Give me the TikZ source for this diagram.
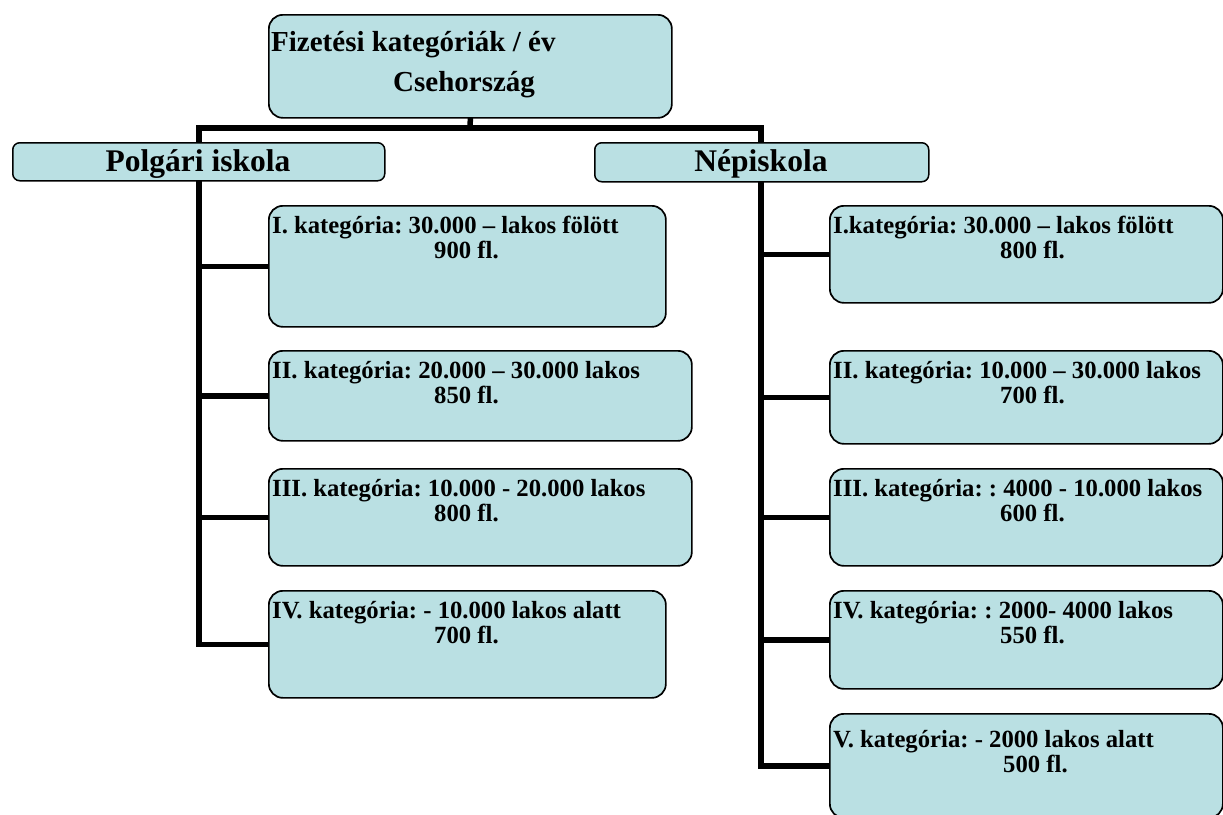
\documentclass[tikz,border=0pt]{standalone}
\usepackage{fontspec}
\setmainfont{Liberation Serif}
\definecolor{boxfill}{RGB}{186,224,227}
\pgfdeclarelayer{background}
\pgfsetlayers{background,main}
\tikzset{
  box/.style={draw=black, line width=1.7pt, fill=boxfill, rounded corners=14pt, anchor=north west, inner sep=0pt},
  hbox/.style={draw=black, line width=1.5pt, fill=boxfill, rounded corners=7pt, anchor=north west, inner sep=0pt},
  htxt/.style={anchor=base, inner sep=0pt, font=\fontsize{31.5}{36}\selectfont\bfseries},
  txt/.style={anchor=base west, inner sep=0pt, font=\fontsize{24.7}{28}\selectfont\bfseries},
  toptxt/.style={anchor=base west, inner sep=0pt, font=\fontsize{29}{33}\selectfont\bfseries},
  conn/.style={draw=black, line width=5.5pt, line cap=rect}
}
\begin{document}
\frenchspacing
\begin{tikzpicture}[x=1pt,y=-1pt]
\useasboundingbox (0,0) rectangle (1223,814);
\clip (0,0) rectangle (1223,814);
\coordinate (hub) at (470,128);
\coordinate (lt) at (199,180);
\coordinate (rt) at (761,181);
% boxes
\node[box, minimum width=403pt, minimum height=103pt] (top) at (268,14) {};
\node[hbox, minimum width=372pt, minimum height=38pt] (lp) at (12,142) {};
\node[hbox, minimum width=334pt, minimum height=39pt] (np) at (594,142) {};
\node[box, minimum width=397pt, minimum height=121pt] (l1) at (268,205) {};
\node[box, minimum width=423pt, minimum height=90pt] (l2) at (268,350) {};
\node[box, minimum width=423pt, minimum height=97pt] (l3) at (268,468) {};
\node[box, minimum width=397pt, minimum height=107pt] (l4) at (268,590) {};
\node[box, minimum width=393pt, minimum height=97pt] (r1) at (829,205) {};
\node[box, minimum width=393pt, minimum height=93pt] (r2) at (829,350) {};
\node[box, minimum width=393pt, minimum height=97pt] (r3) at (829,468) {};
\node[box, minimum width=393pt, minimum height=98pt] (r4) at (829,590) {};
\node[box, minimum width=393pt, minimum height=104pt] (r5) at (829,713) {};
% connectors
\begin{pgfonlayer}{background}
\draw[conn] (top.south) -- (hub);
\draw[conn] (lp.north -| lt) |- (hub) -| (np.north -| rt);
\draw[conn] (lt) |- (l4.west);
\draw[conn] (lt |- l1.west) -- (l1.west);
\draw[conn] (lt |- l2.west) -- (l2.west);
\draw[conn] (lt |- l3.west) -- (l3.west);
\draw[conn] (rt) |- (r5.west);
\draw[conn] (rt |- r1.west) -- (r1.west);
\draw[conn] (rt |- r2.west) -- (r2.west);
\draw[conn] (rt |- r3.west) -- (r3.west);
\draw[conn] (rt |- r4.west) -- (r4.west);
\end{pgfonlayer}
% texts
\node[htxt] (lpt) at (198,171) {Polgári iskola};
\node[htxt] (npt) at (761,171) {Népiskola};
\node[toptxt] (t1) at (271,51) {Fizetési kategóriák / év};
\node[toptxt] (t2) at (393,91) {Csehország};
\node[txt] (l1a) at (272,233) {I. kategória: 30.000 – lakos fölött};
\node[txt] (l1b) at (434,258) {900 fl.};
\node[txt] (l2a) at (272,378) {II. kategória: 20.000 – 30.000 lakos};
\node[txt] (l2b) at (434,403) {850 fl.};
\node[txt] (l3a) at (272,496) {III. kategória: 10.000 - 20.000 lakos};
\node[txt] (l3b) at (434,521) {800 fl.};
\node[txt] (l4a) at (272,618) {IV. kategória: - 10.000 lakos alatt};
\node[txt] (l4b) at (434,643) {700 fl.};
\node[txt] (r1a) at (833,233) {I.kategória: 30.000 – lakos fölött};
\node[txt] (r1b) at (1000,258) {800 fl.};
\node[txt] (r2a) at (833,378) {II. kategória: 10.000 – 30.000 lakos};
\node[txt] (r2b) at (1000,403) {700 fl.};
\node[txt] (r3a) at (833,496) {III. kategória: : 4000 - 10.000 lakos};
\node[txt] (r3b) at (1000,521) {600 fl.};
\node[txt] (r4a) at (833,618) {IV. kategória: : 2000- 4000 lakos};
\node[txt] (r4b) at (1000,643) {550 fl.};
\node[txt] (r5a) at (833,747) {V. kategória: - 2000 lakos alatt};
\node[txt] (r5b) at (1003,772) {500 fl.};
\end{tikzpicture}
\end{document}
